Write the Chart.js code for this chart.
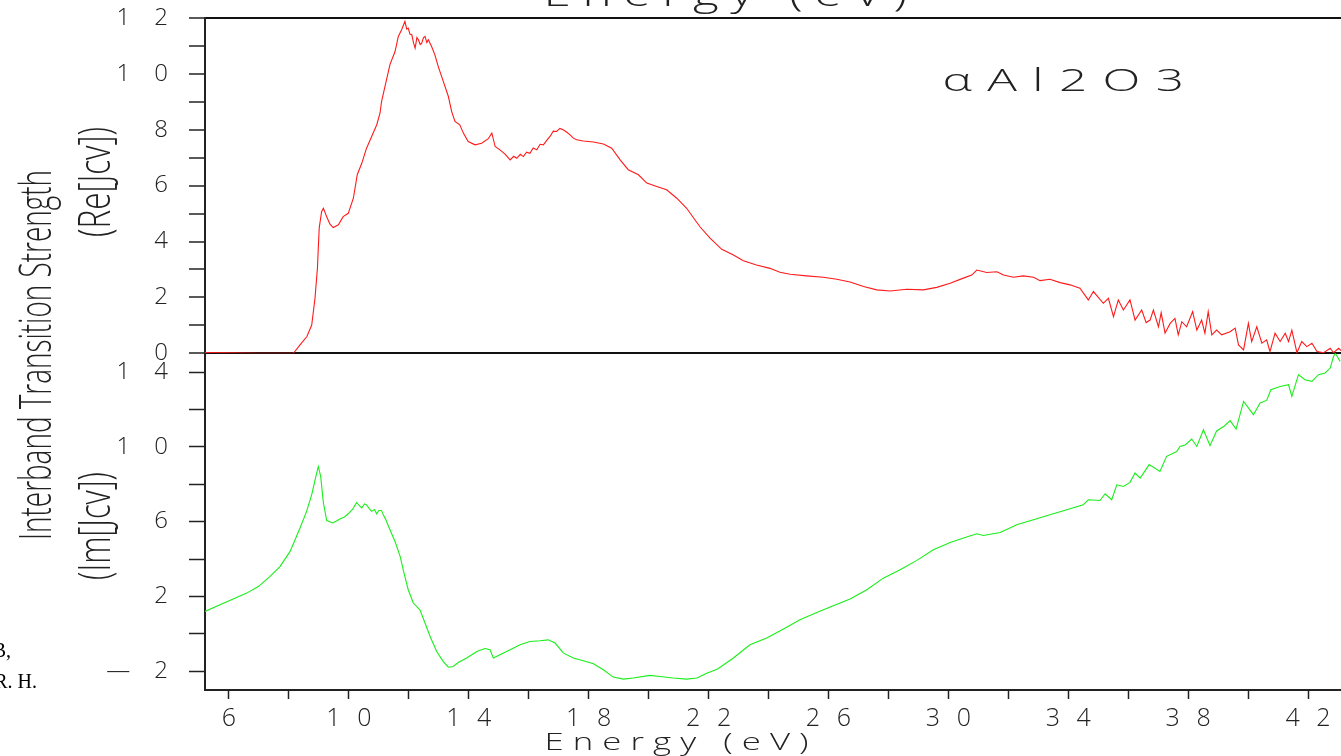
<!DOCTYPE html>
<html>
<head>
<meta charset="utf-8">
<script src="https://cdn.jsdelivr.net/npm/chart.js@4.4.1/dist/chart.umd.min.js"></script>
<style>
  html, body { margin: 0; padding: 0; background: #fff; }
  #jcvChart { display: block; }
</style>
</head>
<body>
<canvas id="jcvChart" width="1341" height="756"></canvas>
<script>
// Re[Jcv] (top panel)
const reEnergy = [5.2, 6.0, 7.0, 8.0, 8.15, 8.37, 8.6, 8.76, 8.87, 8.95, 9.01, 9.09, 9.15, 9.26, 9.37, 9.48, 9.56, 9.65, 9.81, 9.98,
  10.15, 10.28, 10.43, 10.59, 10.76, 10.93, 11.04, 11.09, 11.23, 11.37, 11.54, 11.65, 11.76, 11.87, 11.93, 11.98, 12.04, 12.1, 12.16, 12.21,
  12.27, 12.32, 12.38, 12.43, 12.49, 12.54, 12.6, 12.65, 12.76, 12.87, 12.98, 13.15, 13.32, 13.43, 13.54, 13.7, 13.82, 13.98, 14.21, 14.43,
  14.65, 14.77, 14.88, 15.04, 15.21, 15.38, 15.5, 15.6, 15.72, 15.82, 15.93, 16.04, 16.15, 16.27, 16.38, 16.49, 16.6, 16.71, 16.82, 16.93,
  17.04, 17.15, 17.26, 17.38, 17.49, 17.6, 17.82, 18.16, 18.49, 18.77, 19.05, 19.32, 19.66, 19.94, 20.27, 20.6, 20.94, 21.27, 21.55, 21.72,
  22.05, 22.44, 22.83, 23.16, 23.6, 24.05, 24.38, 24.72, 25.27, 25.83, 26.28, 26.72, 27.17, 27.61, 28.06, 28.61, 29.17, 29.61, 30.06, 30.5,
  30.78, 30.95, 31.28, 31.62, 31.84, 32.17, 32.5, 32.84, 33.06, 33.39, 33.73, 34.06, 34.39, 34.67, 34.84, 35.17, 35.34, 35.51, 35.67, 35.84,
  36.06, 36.23, 36.45, 36.6, 36.73, 36.84, 37.01, 37.1, 37.23, 37.4, 37.56, 37.67, 37.79, 37.95, 38.15, 38.29, 38.45, 38.56, 38.67, 38.79,
  38.95, 39.12, 39.4, 39.57, 39.68, 39.85, 40.01, 40.12, 40.29, 40.46, 40.62, 40.73, 40.9, 41.07, 41.24, 41.35, 41.46, 41.63, 41.79, 41.96,
  42.13, 42.3, 42.52, 42.74, 42.85, 43.02, 43.1];
const reJcv = [0.03, 0.02, 0.0, 0.0, 0.0, 0.3, 0.6, 1.01, 1.97, 3.04, 4.48, 5.07, 5.19, 4.89, 4.62, 4.5, 4.55, 4.6, 4.89, 5.01,
  5.55, 6.39, 6.8, 7.34, 7.76, 8.18, 8.6, 9.01, 9.67, 10.33, 10.8, 11.34, 11.58, 11.88, 11.6, 11.64, 11.42, 11.4, 11.1, 10.92,
  11.3, 11.22, 11.05, 11.1, 11.3, 11.34, 11.12, 11.22, 10.98, 10.68, 10.27, 9.73, 9.19, 8.65, 8.3, 8.18, 7.88, 7.58, 7.46, 7.52,
  7.68, 7.88, 7.4, 7.28, 7.13, 6.92, 7.05, 6.98, 7.12, 7.04, 7.2, 7.16, 7.35, 7.28, 7.48, 7.46, 7.62, 7.76, 7.95, 7.94,
  8.05, 8.0, 7.92, 7.82, 7.7, 7.64, 7.6, 7.56, 7.49, 7.34, 6.92, 6.57, 6.39, 6.09, 5.97, 5.85, 5.55, 5.19, 4.77, 4.52,
  4.12, 3.72, 3.52, 3.31, 3.16, 3.04, 2.9, 2.83, 2.77, 2.72, 2.65, 2.55, 2.39, 2.27, 2.23, 2.29, 2.27, 2.36, 2.51, 2.69,
  2.8, 2.98, 2.89, 2.92, 2.8, 2.72, 2.77, 2.72, 2.6, 2.65, 2.53, 2.45, 2.33, 1.91, 2.21, 1.79, 1.97, 1.31, 1.91, 1.55,
  1.91, 1.19, 1.55, 1.1, 1.19, 1.55, 0.95, 1.45, 0.72, 1.07, 1.25, 0.66, 1.13, 0.95, 1.49, 0.83, 1.19, 0.72, 1.49, 0.66,
  0.83, 0.66, 0.77, 0.9, 0.3, 0.12, 1.07, 0.42, 0.95, 0.36, 0.48, 0.06, 0.72, 0.42, 0.72, 0.42, 0.83, 0.02, 0.42, 0.24,
  0.36, 0.06, 0.02, 0.18, 0.02, 0.18, 0.1];

// Im[Jcv] (bottom panel)
const imEnergy = [5.2, 5.7, 6.14, 6.59, 6.98, 7.37, 7.7, 8.04, 8.37, 8.59, 8.76, 8.9, 8.98, 9.06, 9.15, 9.26, 9.46, 9.6, 9.7, 9.85,
  9.98, 10.12, 10.26, 10.35, 10.43, 10.52, 10.59, 10.68, 10.76, 10.85, 10.93, 11.0, 11.09, 11.15, 11.21, 11.37, 11.54, 11.71, 11.84, 11.98,
  12.15, 12.37, 12.54, 12.71, 12.93, 13.15, 13.32, 13.48, 13.65, 13.93, 14.27, 14.54, 14.71, 14.82, 15.04, 15.38, 15.71, 16.04, 16.38, 16.65,
  16.88, 17.16, 17.49, 17.82, 18.16, 18.49, 18.82, 19.16, 19.49, 20.05, 20.38, 20.82, 21.27, 21.61, 21.94, 22.3, 22.83, 23.38, 23.94, 24.5,
  25.05, 25.61, 26.16, 26.72, 27.28, 27.83, 28.39, 28.95, 29.5, 30.06, 30.61, 30.95, 31.17, 31.73, 32.28, 32.84, 33.39, 33.95, 34.5, 34.67,
  35.06, 35.23, 35.45, 35.62, 35.84, 36.06, 36.23, 36.4, 36.7, 37.06, 37.28, 37.62, 37.73, 37.9, 38.12, 38.29, 38.51, 38.73, 38.95, 39.2,
  39.4, 39.6, 39.85, 40.18, 40.4, 40.62, 40.76, 41.07, 41.35, 41.46, 41.68, 41.9, 42.13, 42.35, 42.57, 42.74, 42.85, 42.91, 43.07];
const imJcv = [1.2, 1.56, 1.86, 2.18, 2.53, 3.07, 3.6, 4.41, 5.66, 6.55, 7.44, 8.42, 8.95, 8.42, 7.0, 6.06, 5.93, 6.05, 6.14, 6.25,
  6.42, 6.65, 7.03, 6.85, 6.73, 6.95, 6.89, 6.7, 6.55, 6.65, 6.42, 6.6, 6.6, 6.35, 6.19, 5.57, 4.94, 4.14, 3.25, 2.36,
  1.65, 1.29, 0.58, -0.14, -0.94, -1.48, -1.78, -1.74, -1.53, -1.29, -0.94, -0.78, -0.85, -1.29, -1.12, -0.85, -0.58, -0.41, -0.37, -0.32,
  -0.49, -1.03, -1.29, -1.44, -1.6, -1.92, -2.31, -2.42, -2.36, -2.22, -2.28, -2.36, -2.42, -2.36, -2.1, -1.88, -1.29, -0.58, -0.22, 0.26,
  0.75, 1.14, 1.5, 1.86, 2.36, 2.98, 3.43, 3.93, 4.5, 4.89, 5.18, 5.35, 5.26, 5.42, 5.83, 6.1, 6.37, 6.64, 6.9, 7.17,
  7.13, 7.49, 7.17, 7.97, 7.88, 8.1, 8.6, 8.33, 9.05, 8.68, 9.49, 9.75, 10.02, 10.1, 10.42, 10.02, 10.91, 10.06, 10.85, 11.1,
  11.4, 10.95, 12.43, 11.72, 12.34, 12.48, 13.05, 13.23, 13.32, 12.7, 13.86, 13.59, 13.5, 13.86, 13.95, 14.21, 14.83, 15.0, 14.57];

const xTicks = [6, 8, 10, 12, 14, 16, 18, 20, 22, 24, 26, 28, 30, 32, 34, 36, 38, 40, 42];
const xLabels = [6, 10, 14, 18, 22, 26, 30, 34, 38, 42];
const reTicks = [0, 1, 2, 3, 4, 5, 6, 7, 8, 9, 10, 11, 12];
const reLabels = [0, 2, 4, 6, 8, 10, 12];
const imTicks = [-2, 0, 2, 4, 6, 8, 10, 12, 14];
const imLabels = [-2, 2, 6, 10, 14];

const INK = '#222';
const tickFont = { family: "'Open Sans', 'DejaVu Sans', sans-serif", size: 24, weight: '300' };

// "12" -> "1 2", "-2" -> "— 2", like the plotter output
const spaced = (v, gap) => {
  const digits = String(Math.abs(v)).split('').join(gap);
  return v < 0 ? '\u2014' + gap + digits : digits;
};

// y axes: fixed width, no label overhang so the plot frame starts at y=18
const fitLeftAxis = (axis) => {
  axis.width = 205;
  axis.paddingTop = 0;
  axis.paddingBottom = 0;
};

const drawText = (ctx, text, opts) => {
  ctx.save();
  ctx.translate(opts.x, opts.y);
  if (opts.rotate) ctx.rotate(opts.rotate);
  ctx.font = opts.font;
  ctx.letterSpacing = opts.spacing || '0px';
  ctx.fillStyle = opts.color || INK;
  ctx.textAlign = opts.align || 'center';
  ctx.textBaseline = opts.baseline || 'middle';
  if (opts.width) {
    const w = ctx.measureText(text).width;
    ctx.scale(opts.width / w, 1);
  }
  ctx.fillText(text, 0, 0);
  ctx.restore();
};

const annotations = {
  id: 'annotations',
  beforeDraw(chart) {
    const { ctx } = chart;
    ctx.save();
    ctx.fillStyle = '#fff';
    ctx.fillRect(0, 0, chart.width, chart.height);
    ctx.restore();
  },
  afterDraw(chart) {
    const { ctx } = chart;
    const light = "300 44px 'Open Sans', 'DejaVu Sans', sans-serif";
    drawText(ctx, 'Energy (eV)', { x: 731, y: 6, font: "300 34px 'Open Sans', sans-serif", spacing: '8px', width: 375, baseline: 'alphabetic' });
    drawText(ctx, 'Energy (eV)', { x: 681, y: 750, font: "300 23px 'Open Sans', sans-serif", spacing: '6px', width: 273, baseline: 'alphabetic' });
    drawText(ctx, '\u03b1Al2O3', { x: 1071, y: 82, font: "300 32px 'Open Sans', sans-serif", spacing: '10px', width: 257 });
    drawText(ctx, 'Interband Transition Strength', { x: 38, y: 355, rotate: -Math.PI / 2, font: light, width: 370 });
    drawText(ctx, '(Re[Jcv])', { x: 97, y: 182, rotate: -Math.PI / 2, font: light, width: 110 });
    drawText(ctx, '(Im[Jcv])', { x: 97, y: 526, rotate: -Math.PI / 2, font: light, width: 108 });
    drawText(ctx, 'B,', { x: 11, y: 657, font: "20px 'Liberation Serif', serif", color: '#000', align: 'right', baseline: 'alphabetic' });
    drawText(ctx, 'R. H.', { x: 37, y: 688, font: "20px 'Liberation Serif', serif", color: '#000', align: 'right', baseline: 'alphabetic' });
  }
};

new Chart(document.getElementById('jcvChart'), {
  type: 'line',
  data: {
    datasets: [
      {
        label: 'Re[Jcv]',
        data: reEnergy.map((e, i) => ({ x: e, y: reJcv[i] })),
        yAxisID: 'yRe',
        borderColor: '#ff1a1a',
        borderWidth: 1.1,
        pointRadius: 0,
        tension: 0
      },
      {
        label: 'Im[Jcv]',
        data: imEnergy.map((e, i) => ({ x: e, y: imJcv[i] })),
        yAxisID: 'yIm',
        borderColor: '#1aee1a',
        borderWidth: 1.1,
        pointRadius: 0,
        tension: 0
      }
    ]
  },
  options: {
    responsive: false,
    animation: false,
    devicePixelRatio: 1,
    layout: { padding: { top: 18, right: 0, bottom: 0, left: 0 } },
    plugins: {
      legend: { display: false },
      tooltip: { enabled: false },
      title: { display: false }
    },
    scales: {
      x: {
        type: 'linear',
        min: 5.2,
        max: 43.1,
        afterBuildTicks: (axis) => { axis.ticks = xTicks.map(v => ({ value: v })); },
        afterFit: (axis) => { axis.height = 66; },
        ticks: {
          autoSkip: false,
          maxRotation: 0,
          padding: 5,
          color: INK,
          font: { ...tickFont, size: 25 },
          callback: (v) => xLabels.includes(v) ? spaced(v, '\u2002\u2009') : ''
        },
        grid: { drawOnChartArea: false, tickLength: 9, tickColor: INK, tickWidth: 1.5 },
        border: { display: true, color: INK, width: 2 }
      },
      yIm: {
        type: 'linear',
        position: 'left',
        stack: 'jcv',
        stackWeight: 336.7,
        min: -3,
        max: 15,
        afterBuildTicks: (axis) => { axis.ticks = imTicks.map(v => ({ value: v })); },
        afterFit: fitLeftAxis,
        ticks: {
          autoSkip: false,
          padding: 21,
          color: INK,
          font: tickFont,
          callback: (v) => imLabels.includes(v) ? spaced(v, '\u2003') : ''
        },
        grid: { drawOnChartArea: false, tickLength: 16, tickColor: INK, tickWidth: 1.5 },
        border: { display: true, color: INK, width: 2 }
      },
      yRe: {
        type: 'linear',
        position: 'left',
        stack: 'jcv',
        stackWeight: 335.3,
        min: 0,
        max: 12,
        afterBuildTicks: (axis) => { axis.ticks = reTicks.map(v => ({ value: v })); },
        afterFit: fitLeftAxis,
        ticks: {
          autoSkip: false,
          padding: 21,
          color: INK,
          font: tickFont,
          callback: (v) => reLabels.includes(v) ? spaced(v, '\u2003') : ''
        },
        grid: {
          drawOnChartArea: true,
          color: (c) => (c.tick && (c.tick.value === 0 || c.tick.value === 12)) ? '#111' : 'rgba(0,0,0,0)',
          lineWidth: 2,
          tickLength: 16,
          tickColor: INK,
          tickWidth: 1.5
        },
        border: { display: true, color: INK, width: 2 }
      }
    }
  },
  plugins: [annotations]
});
</script>
</body>
</html>
